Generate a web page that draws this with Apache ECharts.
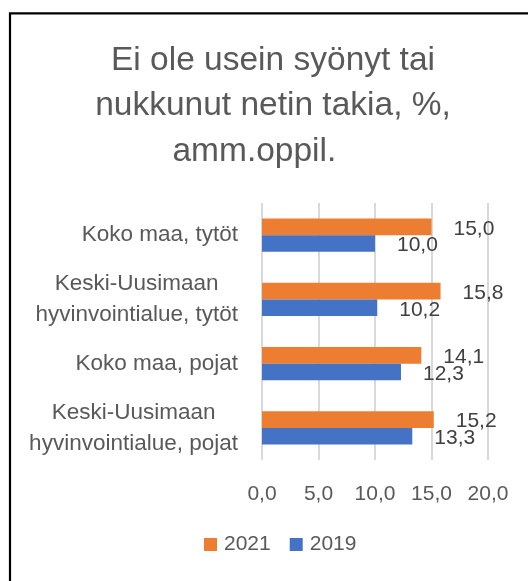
<!DOCTYPE html>
<html>
<head>
<meta charset="utf-8">
<script src="https://cdn.jsdelivr.net/npm/echarts@6/dist/echarts.min.js"></script>
<style>
  html, body { margin: 0; padding: 0; background: #fff; }
  #chart { width: 528px; height: 581px; }
</style>
</head>
<body>
<div id="chart"></div>
<script>
// Categories, top to bottom
const categories = [
  'Koko maa, tytöt',
  'Keski-Uusimaan\nhyvinvointialue, tytöt',
  'Koko maa, pojat',
  'Keski-Uusimaan\nhyvinvointialue, pojat'
];
const seriesNames = ['2021', '2019'];
const values2021 = [15.0, 15.8, 14.1, 15.2];
const values2019 = [10.0, 10.2, 12.3, 13.3];
const axisTicks = [0, 5, 10, 15, 20];

const FONT = '"Liberation Sans", Arial, sans-serif';
const TEXT = '#595959';
const fmt = v => Number(v).toFixed(1).replace('.', ',');

const chart = echarts.init(document.getElementById('chart'), null, { renderer: 'canvas' });

const barLabel = {
  show: true,
  position: 'right',
  distance: 22,
  offset: [0, 2],
  color: '#404040',
  fontSize: 21,
  fontFamily: FONT,
  formatter: p => fmt(p.value)
};

chart.setOption({
  backgroundColor: '#fff',
  animation: false,
  title: {
    text: 'Ei ole usein syönyt tai\nnukkunut netin takia, %,\namm.oppil.    ',
    left: 273,
    top: 38,
    padding: 0,
    textAlign: 'center',
    textStyle: {
      fontFamily: FONT,
      fontSize: 33.5,
      fontWeight: 'normal',
      color: TEXT,
      lineHeight: 45.5
    }
  },
  graphic: [{
    type: 'rect',
    shape: { x: 10, y: 13.3, width: 600, height: 700 },
    style: { fill: 'none', stroke: '#000', lineWidth: 2.2 },
    silent: true
  }],
  legend: {
    data: seriesNames,
    left: 204,
    top: 534,
    padding: 0,
    icon: 'rect',
    itemWidth: 13,
    itemHeight: 13,
    itemGap: 19,
    textStyle: { fontFamily: FONT, fontSize: 21, color: TEXT, padding: [0, 0, 0, 2] }
  },
  grid: { left: 262, right: 40, top: 203, bottom: 121, containLabel: false },
  xAxis: {
    type: 'value',
    min: axisTicks[0],
    max: axisTicks[axisTicks.length - 1],
    interval: axisTicks[1] - axisTicks[0],
    axisLine: { show: false },
    axisTick: { show: false },
    splitLine: { show: true, lineStyle: { color: '#d9d9d9', width: 2 } },
    axisLabel: {
      margin: 24,
      color: TEXT,
      fontSize: 21,
      fontFamily: FONT,
      formatter: v => fmt(v)
    }
  },
  yAxis: {
    type: 'category',
    inverse: true,
    data: categories,
    axisLine: { show: false },
    axisTick: { show: false },
    axisLabel: {
      margin: 24,
      color: TEXT,
      fontSize: 22.5,
      fontFamily: FONT,
      formatter: v => v.split('\n').map(s => '{c|' + s + '}').join('\n'),
      rich: {
        c: { align: 'center', fontSize: 22.5, fontFamily: FONT, color: TEXT, lineHeight: 31 }
      }
    }
  },
  series: [
    {
      name: seriesNames[0],
      type: 'bar',
      data: values2021,
      barGap: '0%',
      barCategoryGap: '48%',
      itemStyle: { color: '#ED7D31' },
      label: barLabel
    },
    {
      name: seriesNames[1],
      type: 'bar',
      data: values2019,
      barGap: '0%',
      barCategoryGap: '48%',
      itemStyle: { color: '#4472C4' },
      label: barLabel
    }
  ]
});
</script>
</body>
</html>
